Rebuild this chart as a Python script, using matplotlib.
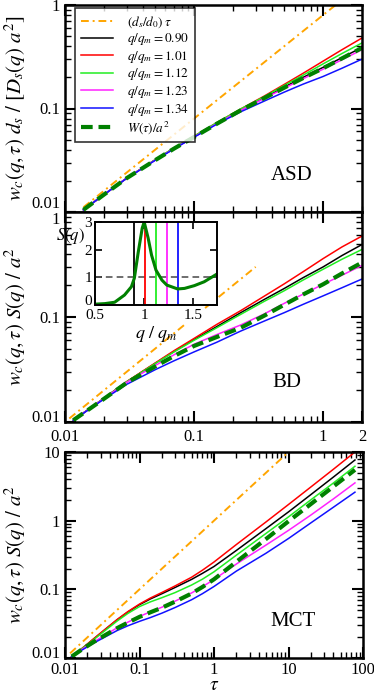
# Collective displacement w_c(q,tau) for ASD, BD and MCT, three stacked log-log panels
import matplotlib
matplotlib.use('Agg')
import matplotlib.pyplot as plt
from matplotlib.ticker import LogLocator, NullFormatter

plt.rcParams['font.family'] = ['Liberation Serif', 'DejaVu Serif']
plt.rcParams['mathtext.fontset'] = 'stix'
plt.rcParams['axes.linewidth'] = 1.8

# %%
# Data
q_labels = ['0.90', '1.01', '1.12', '1.23', '1.34']
q_colors = ['black', 'red', '#22ee22', '#ff22ff', '#1111ff']

# ASD panel
tau_asd = [0.0139, 0.02, 0.03, 0.05, 0.07, 0.1, 0.15, 0.23, 0.35, 0.5, 0.7, 1.0, 1.4, 2.0]
asd_090 = [0.0105, 0.0147, 0.0212, 0.0318, 0.0412, 0.0534, 0.0718, 0.097, 0.127, 0.161, 0.200, 0.250, 0.310, 0.390]
asd_101 = [0.0105, 0.0147, 0.0212, 0.0320, 0.0416, 0.0540, 0.0730, 0.099, 0.132, 0.171, 0.219, 0.287, 0.370, 0.480]
asd_112 = [0.0105, 0.0147, 0.0212, 0.0320, 0.0416, 0.0540, 0.0730, 0.099, 0.130, 0.167, 0.210, 0.270, 0.340, 0.430]
asd_123 = [0.0105, 0.0147, 0.0212, 0.0317, 0.0410, 0.0530, 0.0712, 0.096, 0.125, 0.157, 0.194, 0.240, 0.296, 0.370]
asd_134 = [0.0105, 0.0147, 0.0211, 0.0316, 0.0408, 0.0528, 0.0705, 0.093, 0.118, 0.144, 0.172, 0.204, 0.245, 0.300]
asd_W = [0.0105, 0.0147, 0.0212, 0.0317, 0.0410, 0.0530, 0.0712, 0.096, 0.126, 0.159, 0.197, 0.245, 0.305, 0.385]
asd_free_tau = [0.0139, 1.25]
asd_ds_d0 = 0.8

# BD panel
tau_bd = [0.0116, 0.02, 0.03, 0.05, 0.07, 0.1, 0.15, 0.23, 0.35, 0.5, 0.7, 1.0, 1.4, 2.0]
bd_090 = [0.0104, 0.0168, 0.0241, 0.0362, 0.0470, 0.0610, 0.0810, 0.110, 0.147, 0.187, 0.237, 0.300, 0.385, 0.490]
bd_101 = [0.0104, 0.0168, 0.0242, 0.0365, 0.0478, 0.0625, 0.0850, 0.115, 0.158, 0.207, 0.270, 0.360, 0.465, 0.590]
bd_112 = [0.0104, 0.0168, 0.0241, 0.0360, 0.0465, 0.0600, 0.0790, 0.106, 0.141, 0.178, 0.225, 0.285, 0.355, 0.440]
bd_123 = [0.0104, 0.0167, 0.0238, 0.0345, 0.0437, 0.0550, 0.0680, 0.084, 0.107, 0.135, 0.165, 0.205, 0.250, 0.310]
bd_134 = [0.0104, 0.0165, 0.0228, 0.0315, 0.0383, 0.0465, 0.0575, 0.0735, 0.0915, 0.110, 0.132, 0.159, 0.190, 0.230]
bd_W = [0.0104, 0.0166, 0.0236, 0.0338, 0.0425, 0.0530, 0.0645, 0.079, 0.103, 0.131, 0.164, 0.205, 0.260, 0.330]
bd_free_tau = [0.0108, 0.30]

# MCT panel
tau_mct = [0.0123, 0.017, 0.024, 0.035, 0.05, 0.07, 0.1, 0.14, 0.2, 0.3, 0.5, 0.7,
           1.0, 2.0, 5.0, 10.0, 20.0, 40.0, 78.0]
mct_090 = [0.0105, 0.0138, 0.0187, 0.0262, 0.0359, 0.0468, 0.0598, 0.0725, 0.0864, 0.1064,
           0.1395, 0.171, 0.215, 0.369, 0.768, 1.342, 2.40, 4.31, 7.65]
mct_101 = [0.0105, 0.0138, 0.0189, 0.0265, 0.0363, 0.0475, 0.0610, 0.0747, 0.0900, 0.112,
           0.150, 0.190, 0.250, 0.450, 0.960, 1.720, 3.10, 5.60, 10.0]
mct_112 = [0.0105, 0.0137, 0.0183, 0.0254, 0.0345, 0.0447, 0.0561, 0.0657, 0.0756, 0.0896,
           0.1155, 0.1406, 0.180, 0.315, 0.653, 1.135, 2.015, 3.53, 6.2]
mct_123 = [0.0105, 0.0134, 0.0170, 0.0217, 0.0276, 0.0333, 0.0403, 0.0471, 0.0549, 0.0672,
           0.0885, 0.1093, 0.139, 0.234, 0.442, 0.722, 1.209, 2.072, 3.55]
mct_134 = [0.0105, 0.0131, 0.0164, 0.0204, 0.0251, 0.0295, 0.0342, 0.0388, 0.0450, 0.0543,
           0.0705, 0.0865, 0.110, 0.1845, 0.336, 0.550, 0.930, 1.568, 2.6]
mct_W = [0.0105, 0.0134, 0.0170, 0.0217, 0.0272, 0.0328, 0.0397, 0.0463, 0.0540, 0.0661,
         0.087, 0.1083, 0.140, 0.252, 0.542, 0.980, 1.75, 3.14, 5.5]
mct_free_tau = [0.0117, 10.0]

# Inset: static structure factor
q_over_qm = [0.5, 0.6, 0.7, 0.8, 0.87, 0.9, 0.94, 0.98, 1.0, 1.04, 1.075,
             1.12, 1.18, 1.23, 1.34, 1.41, 1.51, 1.61, 1.74]
S_q = [0.03, 0.05, 0.1, 0.36, 0.66, 0.97, 1.92, 2.78, 3.0, 2.42, 1.8,
       1.26, 0.9, 0.72, 0.58, 0.6, 0.7, 0.84, 1.12]
q_marks = [0.90, 1.01, 1.12, 1.23, 1.34]

# %%
W, H = 374, 693
fig = plt.figure(figsize=(W / 100, H / 100), dpi=100)

def px_axes(x0, y0, x1, y1):
    return fig.add_axes([x0 / W, 1 - y1 / H, (x1 - x0) / W, (y1 - y0) / H])

ax1 = px_axes(65, 5, 362, 212)
ax2 = px_axes(65, 212, 362, 422)
ax3 = px_axes(65, 452, 363, 658)

orange_ls = (0, (4, 2, 1, 2))
W_ls = (0, (2.8, 1.4))


def draw_panel(ax, tau, curves, Wc, free_tau, free_coef):
    ax.plot(free_tau, [free_coef * t for t in free_tau], color='orange',
            linestyle=orange_ls, lw=1.4, label=r'$(d_s/d_0)\;\tau$')
    for y, lab, c in zip(curves, q_labels, q_colors):
        ax.plot(tau, y, color=c, lw=1.1, label=r'$q/q_m = %s$' % lab)
    ax.plot(tau, Wc, color='green', lw=3, linestyle=W_ls,
            label=r'$W(\tau)/a^2$')


def style_axes(ax):
    ax.set_xscale('log')
    ax.set_yscale('log')
    ax.tick_params(which='both', direction='in', top=True, right=True,
                   labelsize=12)
    ax.tick_params(which='major', length=8, width=1.5)
    ax.tick_params(which='minor', length=4, width=1)
    ax.xaxis.set_minor_locator(LogLocator(subs=range(2, 10), numticks=20))
    ax.yaxis.set_minor_locator(LogLocator(subs=range(2, 10), numticks=20))
    ax.xaxis.set_minor_formatter(NullFormatter())
    ax.yaxis.set_minor_formatter(NullFormatter())


draw_panel(ax1, tau_asd, [asd_090, asd_101, asd_112, asd_123, asd_134],
           asd_W, asd_free_tau, asd_ds_d0)
draw_panel(ax2, tau_bd, [bd_090, bd_101, bd_112, bd_123, bd_134],
           bd_W, bd_free_tau, 1.0)
draw_panel(ax3, tau_mct, [mct_090, mct_101, mct_112, mct_123, mct_134],
           mct_W, mct_free_tau, 1.0)

for ax in (ax1, ax2, ax3):
    style_axes(ax)

ax1.set(xlim=(0.01, 2), ylim=(0.01, 1))
ax1.set_xticks([0.01, 0.1, 1], ['', '', ''])
ax1.set_yticks([0.01, 0.1, 1], ['0.01', '0.1', '1'])
ax1.get_yticklabels()[0].set_va('bottom')
ax1.set_ylabel(r'$w_c(q,\tau)\ d_s\ /\ [D_s(q)\ a^2]$', fontsize=15,
               labelpad=2)

ax2.set(xlim=(0.01, 2), ylim=(0.01, 1))
ax2.set_xticks([0.01, 0.1, 1, 2], ['0.01', '0.1', '1', '2'])
ax2.set_yticks([0.01, 0.1, 1], ['0.01', '0.1', '1'])
ax2.get_yticklabels()[0].set_va('baseline')
ax2.get_yticklabels()[2].set_va('top')
ax2.tick_params(axis='x', which='major', pad=5)
ax2.set_ylabel(r'$w_c(q,\tau)\ S(q)\ /\ a^2$', fontsize=15, labelpad=2)

ax3.set(xlim=(0.01, 100), ylim=(0.01, 10))
ax3.set_xticks([0.01, 0.1, 1, 10, 100], ['0.01', '0.1', '1', '10', '100'])
ax3.set_yticks([0.01, 0.1, 1, 10], ['0.01', '0.1', '1', '10'])
ax3.get_yticklabels()[0].set_va('baseline')
ax3.tick_params(axis='x', which='major', pad=3)
ax3.set_ylabel(r'$w_c(q,\tau)\ S(q)\ /\ a^2$', fontsize=15, labelpad=2)
ax3.set_xlabel(r'$\tau$', fontsize=14, va='center')
ax3.xaxis.set_label_coords(0.5, -0.134)

ax1.text(0.764, 0.174, 'ASD', transform=ax1.transAxes, fontsize=15,
         ha='center', va='center')
ax2.text(0.747, 0.187, 'BD', transform=ax2.transAxes, fontsize=15,
         ha='center', va='center')
ax3.text(0.764, 0.175, 'MCT', transform=ax3.transAxes, fontsize=15,
         ha='center', va='center')

leg = ax1.legend(loc='upper left', bbox_to_anchor=(0.034, 0.985), fontsize=9.5,
                 frameon=True, fancybox=False, edgecolor='black',
                 handlelength=2.4, handletextpad=1.1, labelspacing=0.12,
                 borderpad=0.45, borderaxespad=0)
leg.get_frame().set_linewidth(1.2)

# %%
# Inset with S(q)
axi = px_axes(95, 222, 217, 305)
axi.set_zorder(5)
axi.set_facecolor('white')
axi.axhline(1, color='#555555', lw=1.2, linestyle=(0, (4, 2.5)))
for qm, c in zip(q_marks, q_colors):
    axi.axvline(qm, color=c, lw=1.3)
axi.plot(q_over_qm, S_q, color='green', lw=2.2)
axi.set(xlim=(0.5, 1.74), ylim=(0, 3))
axi.set_xticks([0.5, 1, 1.5], ['0.5', '1', '1.5'])
axi.set_yticks([0, 1, 2, 3], ['0', '1', '2', '3'])
axi.tick_params(direction='in', top=True, right=True, labelsize=11,
                length=5, width=1.2, pad=2)
axi.tick_params(axis='x', pad=3)
axi.get_yticklabels()[0].set_va('baseline')
for lab in axi.get_xticklabels():
    lab.set_bbox(dict(facecolor='white', edgecolor='none', pad=1))
for s in axi.spines.values():
    s.set_linewidth(1.4)
axi.set_xlabel(r'$q\ /\ q_m$', fontsize=13, labelpad=1)
axi.text(-0.205, 0.83, r'$S(q)$', transform=axi.transAxes, fontsize=12,
         ha='center', va='center')

fig.savefig('out.png', dpi=100)
